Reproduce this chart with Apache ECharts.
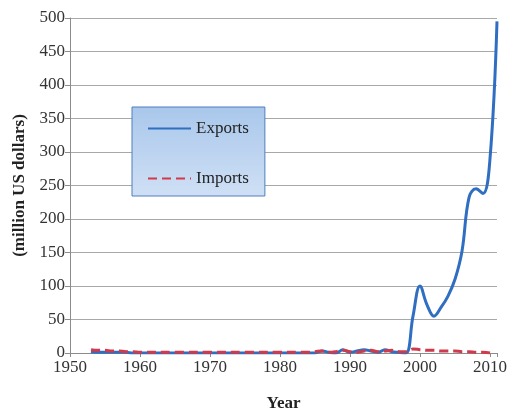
<!DOCTYPE html>
<html><head><meta charset="utf-8">
<script src="https://cdn.jsdelivr.net/npm/echarts@6/dist/echarts.min.js"></script>
<style>html,body{margin:0;padding:0;background:#fff}#c{width:508px;height:410px}</style>
</head><body><div id="c"></div>
<script>
var years = [1953,1954,1955,1956,1957,1958,1959,1960,1961,1962,1963,1964,1965,1966,1967,1968,1969,1970,1971,1972,1973,1974,1975,1976,1977,1978,1979,1980,1981,1982,1983,1984,1985,1986,1987,1988,1989,1990,1991,1992,1993,1994,1995,1996,1997,1998,1999,2000,2001,2002,2003,2004,2005,2006,2007,2008,2009,2010,2011];
var exportsVals = [2,1,1,1,1,1,0,0,0,0,0,0,0,0,0,0,0,0,0,0,0,0,0,0,0,0,0,0,0,0,0,0,0,3,1,0,5,1,3,5,3,1,5,2,1,0,55,100,72,55,68,85,110,152,232,245,238,290,495];
var importsYears = [1953,1954,1955,1956,1957,1958,1959,1960,1965,1970,1975,1980,1984,1985,1986,1987,1988,1989,1990,1991,1992,1993,1994,1995,1996,1997,1998,1999,2000,2001,2002,2003,2004,2005,2006,2007,2008,2009,2010];
var importsVals = [5,4,4,3,3,2,2,1,1,1,1,1,1,2,3,1,2,4,2,1,3,4,2,3,4,2,2,6,5,4,4,3,3,3,2,2,1,1,0];
var yTicks = [0,50,100,150,200,250,300,350,400,450,500];
var xTickLabels = ['1950','1960','1970','1980','1990','2000','2010'];

function pairs(xs, ys){ return xs.map(function(x,i){ return [x, ys[i]]; }); }

var chart = echarts.init(document.getElementById('c'));
var serif = '"Liberation Serif","DejaVu Serif",serif';
chart.setOption({
  animation: false,
  grid: {left: 70, right: 11, top: 18, bottom: 57, outerBoundsMode: 'none', containLabel: false},
  legend: {
    orient: 'vertical', left: 132, top: 107,
    padding: [13, 16, 9, 15],
    itemWidth: 43, itemHeight: 14, itemGap: 33,
    backgroundColor: new echarts.graphic.LinearGradient(0,0,0,1,[{offset:0,color:'#a9c7eb'},{offset:1,color:'#cfe0f5'}]),
    borderColor: '#4f7fbf', borderWidth: 1,
    itemStyle: {color: 'rgba(0,0,0,0)', borderWidth: 0, opacity: 0},
    textStyle: {fontFamily: serif, fontSize: 17, color: '#222'},
    data: ['Exports','Imports']
  },
  xAxis: {
    type: 'value', min: 1950, max: 2011, interval: 10,
    name: 'Year', nameLocation: 'middle', nameGap: 42,
    nameTextStyle: {fontFamily: serif, fontSize: 17, fontWeight: 'bold', color: '#222'},
    axisLine: {lineStyle: {color: '#8c8c8c', width: 1}},
    axisTick: {show: true, length: 4, lineStyle: {color: '#8c8c8c'}},
    splitLine: {show: false},
    axisLabel: {fontFamily: serif, fontSize: 17, color: '#333', margin: 6,
      formatter: function(v){ var s = String(v); return xTickLabels.indexOf(s) >= 0 ? s : ''; }}
  },
  yAxis: {
    type: 'value', min: yTicks[0], max: yTicks[yTicks.length-1], interval: 50,
    name: '(million US dollars)', nameLocation: 'middle', nameGap: 34,
    nameTextStyle: {fontFamily: serif, fontSize: 17, fontWeight: 'bold', color: '#222'},
    axisLine: {show: true, lineStyle: {color: '#8c8c8c', width: 1}},
    axisTick: {show: true, length: 5, lineStyle: {color: '#8c8c8c'}},
    splitLine: {show: true, lineStyle: {color: '#a8a8a8', width: 1}},
    axisLabel: {fontFamily: serif, fontSize: 17, color: '#333', margin: 5}
  },
  series: [
    {name: 'Exports', type: 'line', data: pairs(years, exportsVals), smooth: 0.4, symbol: 'none', showSymbol: false,
     lineStyle: {color: '#2f6ec0', width: 3}, itemStyle: {color: '#2f6ec0'}, z: 3},
    {name: 'Imports', type: 'line', data: pairs(importsYears, importsVals), smooth: 0.4, symbol: 'none', showSymbol: false,
     lineStyle: {color: '#cf3a4c', width: 3, type: [9,5]}, itemStyle: {color: '#cf3a4c'}, z: 4}
  ]
});
</script></body></html>
